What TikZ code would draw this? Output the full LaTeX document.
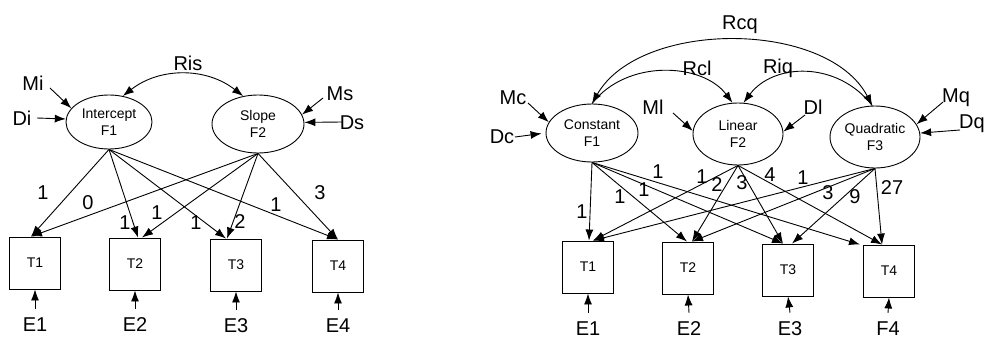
\documentclass[tikz,border=0pt]{standalone}
\usepackage{fontspec}
\setmainfont{Liberation Sans}
\usetikzlibrary{arrows.meta,shapes.geometric}
\begin{document}
\begin{tikzpicture}[x=1pt,y=-1pt,
  lat/.style={ellipse,draw,line width=0.9pt,inner sep=0pt,align=center,font=\fontsize{14}{17}\selectfont},
  obs/.style={rectangle,draw,line width=0.9pt,minimum width=51pt,minimum height=52pt,inner sep=0pt,font=\fontsize{14}{15}\selectfont},
  lab/.style={inner sep=1pt,font=\fontsize{20}{22}\selectfont},
  arr/.style={line width=0.9pt,-{Latex[length=11pt,width=8pt]}},
  darr/.style={line width=0.9pt,{Latex[length=11pt,width=8pt]}-{Latex[length=11pt,width=8pt]}}]
\fill[white] (0,0) rectangle (984,340);
\useasboundingbox (0,0) rectangle (984,340);

% ---------------- left model ----------------
\node[lat,minimum width=86pt,minimum height=54pt] (I1) at (109,122) {Intercept\\F1};
\node[lat,minimum width=92pt,minimum height=58pt] (S2) at (258,124) {Slope\\F2};

\node[obs] (LT1) at (35,263) {T1};
\node[obs] (LT2) at (135,264) {T2};
\node[obs] (LT3) at (236,265) {T3};
\node[obs] (LT4) at (338,266) {T4};

\node[lab] (LE1) at (35,325) {E1};
\node[lab] (LE2) at (135,325) {E2};
\node[lab] (LE3) at (236,326) {E3};
\node[lab] (LE4) at (338,326) {E4};
\draw[arr] ([yshift=8pt]LE1.north) -- (LT1.south);
\draw[arr] ([yshift=8pt]LE2.north) -- (LT2.south);
\draw[arr] ([yshift=8pt]LE3.north) -- (LT3.south);
\draw[arr] ([yshift=8pt]LE4.north) -- (LT4.south);

\draw[arr] (I1.south) -- ([xshift=-4pt]LT1.north);
\draw[arr] (I1.south) -- ([xshift=3pt]LT2.north);
\draw[arr] (I1.south) -- ([xshift=-10pt]LT3.north);
\draw[arr] (I1.south) -- (LT4.north);
\draw[arr] (S2.south) -- ([xshift=-4pt]LT1.north);
\draw[arr] (S2.south) -- ([xshift=7pt]LT2.north);
\draw[arr] (S2.south) -- ([xshift=-9pt]LT3.north);
\draw[arr] (S2.south) -- (LT4.north);

\node[lab] (la) at (43,193) {1};
\node[lab] (lb) at (88,203) {0};
\node[lab] (lc) at (125,223) {1};
\node[lab] (ld) at (157,213) {1};
\node[lab] (le) at (196,223) {1};
\node[lab] (lf) at (240,222) {2};
\node[lab] (lg) at (276,205) {1};
\node[lab] (lh) at (320,193) {3};

\draw[darr] (I1.62) to[bend left=38] (S2.118);
\node[lab] (Ris) at (188,63) {Ris};

\node[lab] (Mi) at (33,83) {Mi};
\node[lab] (Di) at (22,118) {Di};
\node[lab] (Ms) at (340,94) {Ms};
\node[lab] (Ds) at (352,123) {Ds};
\coordinate (mi0) at (50,88);
\coordinate (di0) at (37,118);
\coordinate (ms0) at (323,98);
\coordinate (ds0) at (342,122);
\draw[arr] (mi0) -- (I1.160);
\draw[arr] (di0) -- (I1.176);
\draw[arr] (ms0) -- (S2.12);
\draw[arr] (ds0) -- (S2.2);

% ---------------- right model ----------------
\node[lat,minimum width=92pt,minimum height=58pt] (C1) at (592,133) {Constant\\F1};
\node[lat,minimum width=90pt,minimum height=62pt] (L2) at (738,134) {Linear\\F2};
\node[lat,minimum width=90pt,minimum height=62pt] (Q3) at (875,137) {Quadratic\\F3};

\node[obs] (RT1) at (588,267) {T1};
\node[obs] (RT2) at (688,268) {T2};
\node[obs] (RT3) at (788,270) {T3};
\node[obs] (RT4) at (889,271) {T4};

\node[lab] (RE1) at (588,329) {E1};
\node[lab] (RE2) at (689,329) {E2};
\node[lab] (RE3) at (790,329) {E3};
\node[lab] (RE4) at (888,329) {F4};
\draw[arr] ([yshift=8pt]RE1.north) -- (RT1.south);
\draw[arr] ([yshift=8pt]RE2.north) -- (RT2.south);
\draw[arr] ([yshift=8pt]RE3.north) -- (RT3.south);
\draw[arr] ([yshift=8pt]RE4.north) -- (RT4.south);

\draw[arr] (C1.south) -- ([xshift=1pt]RT1.north);
\draw[arr] (C1.south) -- ([xshift=-1pt]RT2.north);
\draw[arr] (C1.south) -- ([xshift=-5pt]RT3.north);
\draw[arr] (C1.south) -- ([xshift=-29pt]RT4.north);
\draw[arr] (L2.south) -- ([xshift=5pt]RT1.north);
\draw[arr] (L2.south) -- ([xshift=4pt]RT2.north);
\draw[arr] (L2.south) -- ([xshift=-5pt]RT3.north);
\draw[arr] (L2.south) -- ([xshift=-7pt]RT4.north);
\draw[arr] (Q3.south) -- ([xshift=5pt]RT1.north);
\draw[arr] (Q3.south) -- ([xshift=4pt]RT2.north);
\draw[arr] (Q3.south) -- ([xshift=4pt]RT3.north);
\draw[arr] (Q3.south) -- ([xshift=-7pt]RT4.north);

\node[lab] (ra) at (582,212) {1};
\node[lab] (rb) at (620,197) {1};
\node[lab] (rc) at (644,190) {1};
\node[lab] (rd) at (658,172) {1};
\node[lab] (re) at (702,177) {1};
\node[lab] (rf) at (717,185) {2};
\node[lab] (rg) at (742,183) {3};
\node[lab] (rh) at (770,175) {4};
\node[lab] (ri) at (803,178) {1};
\node[lab] (rj) at (828,193) {3};
\node[lab] (rk) at (855,197) {9};
\node[lab] (rl) at (892,188) {27};

\draw[darr] (C1.north) .. controls +(48,-84) and +(-45,-86) .. (Q3.95);
\draw[arr] (C1.north) .. controls +(35,-45) and +(-30,-40) .. (L2.100);
\draw[arr] (Q3.95) .. controls +(-35,-45) and +(30,-40) .. (L2.80);
\node[lab] (Rcq) at (740,25) {Rcq};
\node[lab] (Rcl) at (697,68) {Rcl};
\node[lab] (Riq) at (778,68) {Riq};

\node[lab] (Mc) at (513,98) {Mc};
\node[lab] (Dc) at (502,137) {Dc};
\node[lab] (Ml) at (653,107) {Ml};
\node[lab] (Dl) at (813,107) {Dl};
\node[lab] (Mq) at (956,98) {Mq};
\node[lab] (Dq) at (972,124) {Dq};
\coordinate (mc0) at (528,103);
\coordinate (dc0) at (515,137);
\coordinate (ml0) at (673,113);
\coordinate (dl0) at (805,115);
\coordinate (mq0) at (943,102);
\coordinate (dq0) at (960,130);
\draw[arr] (mc0) -- (C1.166);
\draw[arr,shorten >=4pt] (dc0) -- (C1.180);
\draw[arr] (ml0) -- (L2.176);
\draw[arr] (dl0) -- (L2.3);
\draw[arr] (mq0) -- (Q3.17);
\draw[arr] (dq0) -- (Q3.5);
\end{tikzpicture}
\end{document}
